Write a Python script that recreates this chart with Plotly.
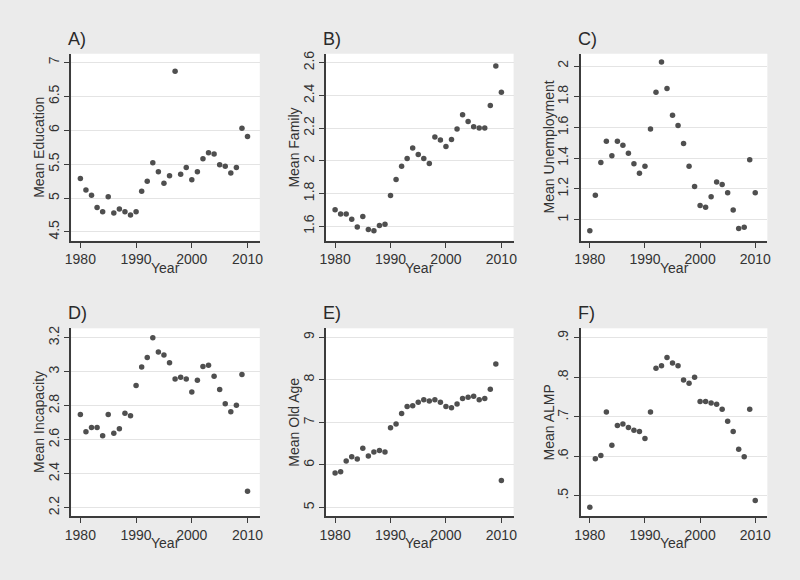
import plotly.graph_objects as go

years = list(range(1980, 2011))

education = [5.29, 5.12, 5.04, 4.86, 4.80, 5.02, 4.78, 4.84, 4.80, 4.75, 4.80,
             5.10, 5.25, 5.52, 5.39, 5.22, 5.33, 6.87, 5.35, 5.45, 5.27,
             5.39, 5.58, 5.67, 5.65, 5.49, 5.47, 5.37, 5.45, 6.03, 5.91]
family = [1.70, 1.675, 1.675, 1.643, 1.595, 1.66, 1.58, 1.572, 1.605, 1.612, 1.788,
          1.886, 1.967, 2.014, 2.079, 2.038, 2.014, 1.984, 2.146, 2.128, 2.087,
          2.13, 2.195, 2.282, 2.241, 2.209, 2.201, 2.201, 2.338, 2.58, 2.42]
unemployment = [0.927, 1.158, 1.371, 1.51, 1.415, 1.51, 1.484, 1.432, 1.363, 1.302, 1.348,
                1.59, 1.829, 2.026, 1.853, 1.68, 1.613, 1.495, 1.348, 1.216, 1.091,
                1.08, 1.149, 1.244, 1.229, 1.175, 1.063, 0.942, 0.95, 1.39, 1.175]
incapacity = [2.748, 2.646, 2.672, 2.672, 2.623, 2.748, 2.638, 2.664, 2.756, 2.74, 2.918,
              3.028, 3.083, 3.20, 3.116, 3.098, 3.053, 2.957, 2.967, 2.957, 2.881,
              2.949, 3.03, 3.037, 2.973, 2.895, 2.811, 2.764, 2.803, 2.983, 2.296]
old_age = [5.81, 5.84, 6.09, 6.19, 6.14, 6.39, 6.21, 6.30, 6.34, 6.30, 6.87,
           6.96, 7.21, 7.37, 7.39, 7.47, 7.53, 7.50, 7.53, 7.47, 7.37,
           7.34, 7.43, 7.56, 7.59, 7.61, 7.53, 7.56, 7.78, 8.37, 5.63]
almp = [0.471, 0.594, 0.602, 0.712, 0.628, 0.678, 0.682, 0.673, 0.666, 0.663, 0.645,
        0.712, 0.823, 0.829, 0.85, 0.836, 0.829, 0.793, 0.785, 0.80, 0.739,
        0.739, 0.735, 0.732, 0.719, 0.689, 0.663, 0.618, 0.599, 0.719, 0.488]

panel_labels = ["A)", "B)", "C)", "D)", "E)", "F)"]
y_titles = ["Mean Education", "Mean Family", "Mean Unemployment",
            "Mean Incapacity", "Mean Old Age", "Mean ALMP"]
x_title = "Year"
series = [education, family, unemployment, incapacity, old_age, almp]

y_tickvals = [
    [4.5, 5, 5.5, 6, 6.5, 7],
    [1.6, 1.8, 2.0, 2.2, 2.4, 2.6],
    [1.0, 1.2, 1.4, 1.6, 1.8, 2.0],
    [2.2, 2.4, 2.6, 2.8, 3.0, 3.2],
    [5, 6, 7, 8, 9],
    [0.5, 0.6, 0.7, 0.8, 0.9],
]
y_ticktext = [
    ["4.5", "5", "5.5", "6", "6.5", "7"],
    ["1.6", "1.8", "2", "2.2", "2.4", "2.6"],
    ["1", "1.2", "1.4", "1.6", "1.8", "2"],
    ["2.2", "2.4", "2.6", "2.8", "3", "3.2"],
    ["5", "6", "7", "8", "9"],
    [".5", ".6", ".7", ".8", ".9"],
]
y_ranges = [
    [4.37, 7.13],
    [1.511, 2.655],
    [0.862, 2.08],
    [2.149, 3.255],
    [4.79, 9.21],
    [0.448, 0.924],
]
x_tickvals = [1980, 1990, 2000, 2010]

W, H = 800, 580
col_px = [(66, 257), (324, 514), (582, 771)]
row_px = [(51, 239), (327, 516)]

font_family = "Liberation Sans, Arial, sans-serif"
axis_col = "#3c3c3c"
text_col = "#333333"

fig = go.Figure()
layout = dict(
    width=W, height=H,
    margin=dict(l=0, r=0, t=0, b=0),
    paper_bgcolor="#ebebeb",
    plot_bgcolor="#ffffff",
    showlegend=False,
    font=dict(family=font_family, size=14, color=text_col),
)
annotations = []
for i in range(6):
    r, c = divmod(i, 3)
    n = i + 1
    xa = "x" if n == 1 else f"x{n}"
    ya = "y" if n == 1 else f"y{n}"
    fig.add_trace(go.Scatter(
        x=years, y=series[i], mode="markers",
        marker=dict(symbol="circle", size=5.5, color="#4f4f4f"),
        xaxis=xa, yaxis=ya, cliponaxis=False,
    ))
    x0, x1 = col_px[c]
    y0, y1 = row_px[r]
    layout[f"xaxis{'' if n == 1 else n}"] = dict(
        domain=[x0 / W, x1 / W], anchor=ya, range=[1978.35, 2012.2],
        tickvals=x_tickvals, ticks="outside", ticklen=5, tickwidth=1.3,
        tickcolor=axis_col, showline=True, linecolor=axis_col, linewidth=1.5,
        showgrid=False, zeroline=False,
        tickfont=dict(size=14, color=text_col),
    )
    layout[f"yaxis{'' if n == 1 else n}"] = dict(
        domain=[1 - y1 / H, 1 - y0 / H], anchor=xa, range=y_ranges[i],
        tickvals=y_tickvals[i], ticktext=y_ticktext[i], tickangle=-90,
        ticks="outside", ticklen=5, tickwidth=1.3, tickcolor=axis_col,
        showline=True, linecolor=axis_col, linewidth=1.5,
        showgrid=True, gridcolor="#e4e4e4", gridwidth=1, zeroline=False,
        tickfont=dict(size=14, color=text_col),
    )
    annotations.append(dict(
        text=panel_labels[i], xref="paper", yref="paper",
        x=(x0 - 5) / W, y=1 - (y0 - 3) / H, xanchor="left", yanchor="bottom",
        showarrow=False, font=dict(size=18, color="#2a2a2a"),
    ))
    annotations.append(dict(
        text=y_titles[i], xref="paper", yref="paper", textangle=-90,
        x=(x0 - 32) / W, y=1 - ((y0 + y1) / 2) / H, xanchor="center", yanchor="middle",
        showarrow=False, font=dict(size=14, color=text_col),
    ))
    annotations.append(dict(
        text=x_title, xref="paper", yref="paper",
        x=((x0 + x1) / 2) / W, y=1 - (y1 + 27) / H, xanchor="center", yanchor="middle",
        showarrow=False, font=dict(size=14, color=text_col),
    ))
layout["annotations"] = annotations
fig.update_layout(**layout)
fig.write_html("out.html",
               config={"displayModeBar": False},
               post_script="document.body.style.margin='0px';document.body.style.overflow='hidden';")
